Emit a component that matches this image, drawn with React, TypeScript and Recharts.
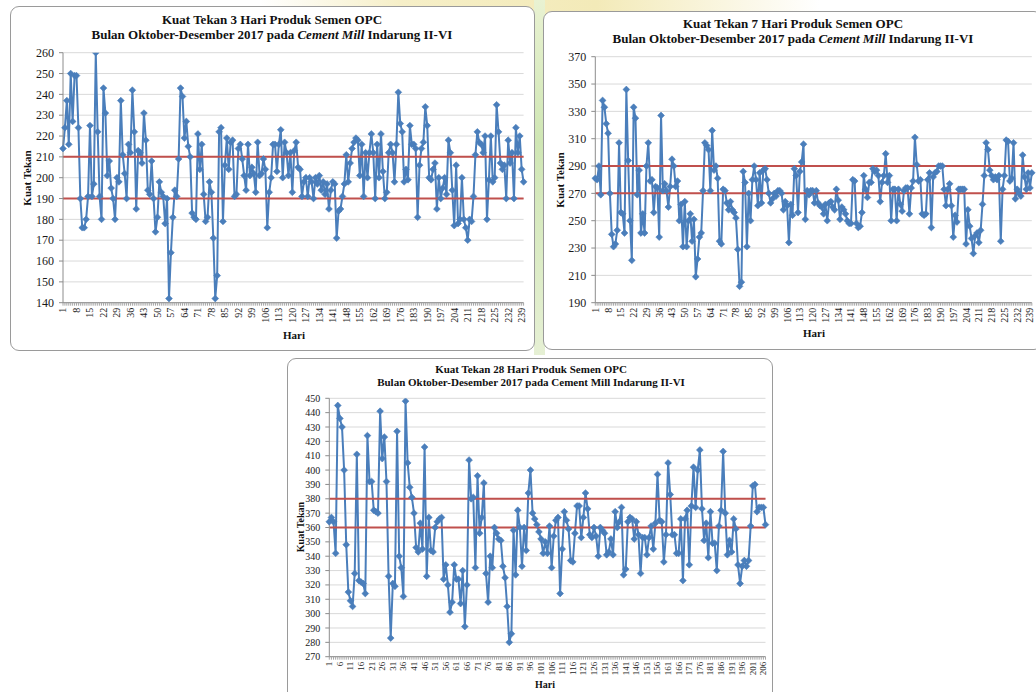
import React from 'react';
import { LineChart, Line, XAxis, YAxis, CartesianGrid } from 'recharts';

const FONT = '"Liberation Serif", "Times New Roman", serif';
const BLUE = '#4a7ebb';
const RED = '#c0504d';

// Kuat Tekan 3 Hari (240 hari)
const strength3: number[] = [
  214, 224, 237, 216, 250, 227, 249, 249, 224, 190,
  176, 176, 180, 191, 225, 191, 197, 260, 222, 191,
  180, 243, 231, 201, 208, 195, 190, 180, 200, 198,
  237, 211, 202, 190, 216, 212, 242, 222, 185, 213,
  212, 207, 231, 218, 194, 192, 208, 190, 174, 181,
  198, 193, 191, 178, 190, 142, 164, 181, 194, 191,
  209, 243, 239, 219, 227, 215, 210, 183, 181, 180,
  221, 204, 216, 192, 179, 181, 198, 193, 171, 142,
  153, 222, 224, 179, 206, 219, 204, 217, 218, 191,
  192, 214, 216, 209, 201, 194, 216, 201, 205, 202,
  193, 217, 201, 202, 209, 204, 176, 193, 200, 216,
  216, 203, 216, 223, 200, 217, 212, 201, 212, 193,
  213, 217, 205, 204, 191, 198, 200, 191, 200, 198,
  190, 200, 197, 201, 194, 198, 192, 197, 185, 194,
  198, 197, 171, 184, 185, 191, 197, 211, 198, 207,
  214, 217, 219, 218, 201, 216, 191, 212, 200, 212,
  221, 212, 190, 216, 200, 221, 203, 190, 193, 212,
  216, 212, 198, 216, 241, 226, 222, 198, 204, 199,
  225, 216, 216, 214, 181, 206, 214, 217, 234, 225,
  200, 199, 204, 207, 185, 200, 190, 195, 200, 192,
  218, 212, 194, 177, 206, 178, 180, 200, 180, 176,
  170, 180, 179, 191, 211, 222, 217, 216, 212, 220,
  180, 199, 220, 198, 200, 235, 222, 207, 204, 206,
  190, 218, 207, 212, 190, 224, 212, 220, 204, 198,
];

// Kuat Tekan 7 Hari (240 hari)
const strength7: number[] = [
  281, 280, 290, 269, 338, 333, 321, 314, 270, 240,
  231, 233, 243, 307, 256, 255, 241, 346, 294, 250,
  221, 333, 325, 269, 287, 241, 255, 241, 290, 307,
  279, 280, 256, 275, 274, 238, 327, 272, 277, 272,
  260, 275, 295, 290, 275, 279, 250, 262, 231, 264,
  231, 250, 255, 235, 251, 209, 222, 238, 241, 272,
  307, 305, 302, 272, 316, 287, 290, 281, 235, 233,
  273, 272, 263, 258, 264, 258, 256, 252, 229, 202,
  205, 286, 278, 231, 270, 250, 280, 290, 280, 261,
  285, 263, 287, 288, 280, 270, 263, 266, 270, 268,
  272, 272, 270, 258, 264, 261, 234, 262, 254, 288,
  283, 256, 286, 293, 306, 251, 272, 269, 272, 272,
  263, 272, 263, 261, 260, 255, 262, 250, 263, 264,
  260, 258, 273, 265, 251, 260, 258, 255, 250, 248,
  248, 280, 279, 248, 245, 246, 256, 283, 273, 267,
  278, 278, 288, 286, 287, 283, 264, 278, 283, 299,
  278, 283, 250, 273, 273, 250, 273, 262, 257, 272,
  274, 274, 255, 274, 279, 311, 291, 279, 280, 255,
  254, 255, 280, 285, 245, 282, 285, 286, 290, 290,
  290, 273, 261, 273, 277, 261, 238, 254, 249, 273,
  273, 273, 273, 233, 258, 246, 237, 226, 239, 241,
  234, 243, 262, 283, 307, 302, 287, 283, 280, 282,
  280, 283, 235, 273, 283, 309, 308, 279, 281, 307,
  266, 273, 270, 268, 298, 282, 273, 285, 274, 285,
];

// Kuat Tekan 28 Hari (207 hari)
const strength28: number[] = [
  364, 367, 364, 342, 445, 436, 430, 400, 348, 315,
  309, 305, 328, 411, 323, 322, 321, 314, 424, 392,
  392, 372, 371, 370, 441, 408, 423, 392, 326, 283,
  321, 319, 427, 340, 332, 312, 448, 405, 388, 381,
  370, 346, 343, 363, 345, 416, 326, 367, 344, 343,
  360, 364, 366, 367, 324, 334, 320, 301, 308, 334,
  324, 324, 307, 330, 291, 320, 407, 380, 381, 332,
  396, 356, 367, 391, 328, 308, 340, 332, 360, 356,
  352, 351, 333, 325, 305, 280, 286, 358, 327, 372,
  360, 333, 360, 344, 384, 400, 370, 366, 362, 357,
  352, 342, 350, 342, 361, 332, 354, 365, 367, 314,
  345, 371, 365, 359, 337, 336, 356, 375, 375, 353,
  367, 384, 373, 355, 353, 360, 354, 340, 360, 358,
  356, 341, 343, 352, 341, 371, 360, 364, 374, 327,
  331, 364, 367, 366, 352, 364, 355, 328, 353, 353,
  341, 353, 361, 345, 363, 397, 365, 364, 336, 355,
  405, 383, 355, 355, 342, 342, 366, 323, 366, 372,
  334, 375, 402, 374, 400, 414, 373, 351, 363, 339,
  371, 349, 349, 330, 361, 372, 413, 370, 341, 351,
  343, 366, 359, 334, 321, 333, 337, 333, 337, 361,
  389, 390, 371, 374, 374, 374, 362,
];

const limits3 = [190, 210];
const limits7 = [270, 290];
const limits28 = [360, 380];

const yTicks3 = [140, 150, 160, 170, 180, 190, 200, 210, 220, 230, 240, 250, 260];
const yTicks7 = [190, 210, 230, 250, 270, 290, 310, 330, 350, 370];
const yTicks28 = [270, 280, 290, 300, 310, 320, 330, 340, 350, 360, 370, 380, 390, 400, 410, 420, 430, 440, 450];

const Diamond = (props: any) => {
  const { cx, cy, index } = props;
  if (cx == null || cy == null) return <g key={`e-${index}`} />;
  const r = 3.4;
  return (
    <path
      key={`d-${index}`}
      d={`M${cx},${cy - r}L${cx + r},${cy}L${cx},${cy + r}L${cx - r},${cy}Z`}
      fill={BLUE}
      stroke={BLUE}
      strokeWidth={0.6}
    />
  );
};

const makeTick = (step: number, fontSize: number) => (props: any) => {
  const { x, y, payload } = props;
  const v = Number(payload.value);
  if ((v - 1) % step !== 0) return <g />;
  return (
    <text
      x={x}
      y={y}
      transform={`rotate(-90, ${x}, ${y})`}
      textAnchor="end"
      dominantBaseline="central"
      fontSize={fontSize}
      fontFamily={FONT}
      fill="#1a1a1a"
    >
      {v}
    </text>
  );
};

type PanelProps = {
  left: number;
  top: number;
  width: number;
  height: number;
  values: number[];
  limits: number[];
  yTicks: number[];
  margin: { top: number; right: number; bottom: number; left: number };
  yWidth: number;
  xHeight: number;
  xStep: number;
  yFont: number;
  xFont: number;
};

function Panel(p: PanelProps) {
  const data = p.values.map((v, i) => ({ day: i + 1, value: v, upper: p.limits[1], lower: p.limits[0] }));
  return (
    <div style={{ position: 'absolute', left: p.left, top: p.top }}>
      <LineChart width={p.width} height={p.height} data={data} margin={p.margin}>
        <CartesianGrid vertical={false} stroke="#d9d9d9" strokeWidth={1} />
        <XAxis
          dataKey="day"
          scale="point"
          interval={0}
          padding={{ left: 0, right: 0 }}
          height={p.xHeight}
          tickSize={3}
          tickMargin={2}
          axisLine={{ stroke: '#8c8c8c' }}
          tickLine={{ stroke: '#a6a6a6' }}
          tick={makeTick(p.xStep, p.xFont)}
        />
        <YAxis
          type="number"
          domain={[p.yTicks[0], p.yTicks[p.yTicks.length - 1]]}
          ticks={p.yTicks}
          interval={0}
          width={p.yWidth}
          tickSize={4}
          tickMargin={5}
          axisLine={{ stroke: '#8c8c8c' }}
          tickLine={{ stroke: '#8c8c8c' }}
          tick={{ fontSize: p.yFont, fill: '#1a1a1a', fontFamily: FONT }}
          allowDataOverflow
        />
        <Line dataKey="value" stroke={BLUE} strokeWidth={2} dot={Diamond} isAnimationActive={false} />
        <Line dataKey="upper" stroke={RED} strokeWidth={2} dot={false} isAnimationActive={false} />
        <Line dataKey="lower" stroke={RED} strokeWidth={2} dot={false} isAnimationActive={false} />
      </LineChart>
    </div>
  );
}

const Card = ({ left, top, width, height }: { left: number; top: number; width: number; height: number }) => (
  <div
    style={{
      position: 'absolute',
      left,
      top,
      width,
      height,
      boxSizing: 'border-box',
      border: '1px solid #9a9a9a',
      borderRadius: 9,
      background: '#ffffff',
    }}
  />
);

const Title = ({ cx, top, size, lh, line1, line2 }: { cx: number; top: number; size: number; lh: number; line1: React.ReactNode; line2: React.ReactNode }) => (
  <div
    style={{
      position: 'absolute',
      left: cx - 300,
      top,
      width: 600,
      textAlign: 'center',
      fontFamily: FONT,
      fontWeight: 'bold',
      fontSize: size,
      lineHeight: `${lh}px`,
      color: '#111',
      whiteSpace: 'nowrap',
    }}
  >
    <div>{line1}</div>
    <div>{line2}</div>
  </div>
);

const VLabel = ({ x, y, size, text }: { x: number; y: number; size: number; text: string }) => (
  <div
    style={{
      position: 'absolute',
      left: x,
      top: y,
      transform: 'translate(-50%, -50%) rotate(-90deg)',
      fontFamily: FONT,
      fontWeight: 'bold',
      fontSize: size,
      whiteSpace: 'nowrap',
      color: '#111',
    }}
  >
    {text}
  </div>
);

const HLabel = ({ x, y, size, text }: { x: number; y: number; size: number; text: string }) => (
  <div
    style={{
      position: 'absolute',
      left: x,
      top: y,
      transform: 'translate(-50%, -50%)',
      fontFamily: FONT,
      fontWeight: 'bold',
      fontSize: size,
      whiteSpace: 'nowrap',
      color: '#111',
    }}
  >
    {text}
  </div>
);

export default function App() {
  return (
    <div style={{ position: 'absolute', left: 0, top: 0, width: 1036, height: 692, overflow: 'hidden', background: '#ffffff' }}>
      {/* faint background decoration behind the panels */}
      <div style={{ position: 'absolute', left: 260, top: 0, width: 560, height: 14, background: 'linear-gradient(90deg, rgba(255,255,255,0) 0%, #f6efc8 25%, #f3eab8 60%, rgba(255,255,255,0) 100%)' }} />
      <div style={{ position: 'absolute', left: 534, top: 0, width: 11, height: 355, background: 'linear-gradient(180deg, #e9f2d2 0%, #cfe6b4 40%, #e6f0d4 100%)' }} />

      {/* Panel 1 */}
      <Card left={10} top={6} width={525} height={345} />
      <Panel
        left={10}
        top={5}
        width={527}
        height={346}
        values={strength3}
        limits={limits3}
        yTicks={yTicks3}
        margin={{ top: 47.7, right: 13.4, bottom: 18.3, left: 8 }}
        yWidth={45}
        xHeight={30}
        xStep={7}
        yFont={12}
        xFont={10}
      />
      <Title
        cx={272}
        top={12}
        size={13}
        lh={15}
        line1="Kuat Tekan 3 Hari Produk Semen OPC"
        line2={<>Bulan Oktober-Desember 2017 pada <i>Cement Mill</i> Indarung II-VI</>}
      />
      <VLabel x={27} y={178} size={11} text="Kuat Tekan" />
      <HLabel x={294} y={335} size={11} text="Hari" />

      {/* Panel 2 */}
      <Card left={543} top={11} width={500} height={339} />
      <Panel
        left={543}
        top={11}
        width={493}
        height={339}
        values={strength7}
        limits={limits7}
        yTicks={yTicks7}
        margin={{ top: 45.7, right: 4.2, bottom: 17.3, left: 8.3 }}
        yWidth={44}
        xHeight={30}
        xStep={7}
        yFont={12}
        xFont={10}
      />
      <Title
        cx={793}
        top={17}
        size={13}
        lh={14.5}
        line1="Kuat Tekan 7 Hari Produk Semen OPC"
        line2={<>Bulan Oktober-Desember 2017 pada <i>Cement Mill</i> Indarung II-VI</>}
      />
      <VLabel x={560} y={180} size={11} text="Kuat Tekan" />
      <HLabel x={814} y={333} size={11} text="Hari" />

      {/* Panel 3 */}
      <Card left={287} top={358} width={486} height={345} />
      <Panel
        left={287}
        top={357}
        width={486}
        height={335}
        values={strength28}
        limits={limits28}
        yTicks={yTicks28}
        margin={{ top: 41.3, right: 7.5, bottom: 10.3, left: 7.3 }}
        yWidth={35}
        xHeight={25}
        xStep={5}
        yFont={10}
        xFont={9}
      />
      <Title
        cx={531}
        top={363}
        size={11}
        lh={12.5}
        line1="Kuat Tekan 28 Hari Produk Semen OPC"
        line2="Bulan Oktober-Desember 2017 pada Cement Mill Indarung II-VI"
      />
      <VLabel x={300} y={527} size={10} text="Kuat Tekan" />
      <HLabel x={545} y={684} size={10} text="Hari" />
    </div>
  );
}
